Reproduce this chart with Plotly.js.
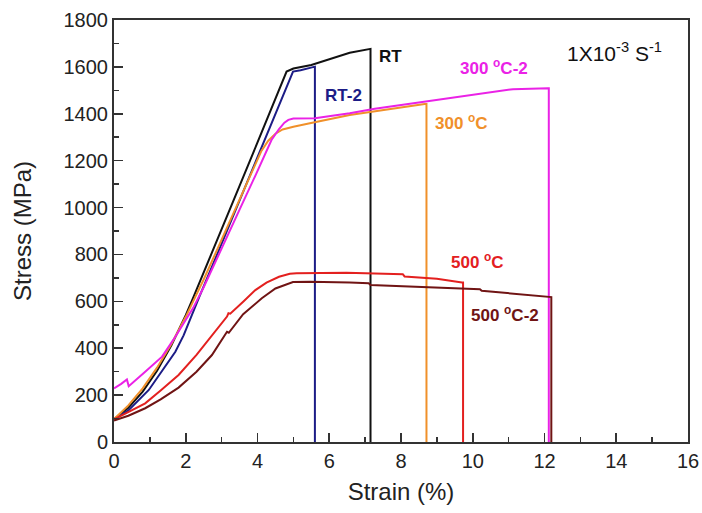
<!DOCTYPE html>
<html>
<head>
<meta charset="utf-8">
<script src="https://cdn.plot.ly/plotly-3.0.1.min.js"></script>
<style>html,body{margin:0;padding:0;background:#fff;}#chart{width:702px;height:513px;}</style>
</head>
<body>
<div id="chart"></div>
<script>
// ---- Data (strain %, stress MPa) ----
var rtX = [0,0.4,0.8,1.2,1.6,2.0,2.22,2.5,3.0,3.5,4.0,4.5,4.7,4.81,5.0,5.5,6.57,7.1,7.15,7.15];
var rtY = [97,146,215,304,413,541,620,722,905,1092,1278,1465,1540,1580,1593,1608,1660,1677,1677,0];

var rt2X = [0,0.4,0.97,1.4,1.71,1.94,2.2,2.38,3.0,3.5,4.0,4.5,4.9,4.99,5.2,5.55,5.6,5.6];
var rt2Y = [97,135,222,320,385,455,555,620,846,1029,1211,1394,1540,1580,1586,1601,1601,0];

var c300X = [0,0.4,0.8,1.2,1.6,2.0,2.27,2.5,3.0,3.5,4.1,4.3,4.5,4.7,5.0,5.46,6.57,8.66,8.71,8.71];
var c300Y = [97,156,229,317,418,534,620,693,863,1034,1239,1285,1315,1333,1345,1360,1395,1442,1442,0];

var c300bX = [0,0.2,0.36,0.41,0.87,1.34,1.71,2.2,2.5,3.0,3.5,3.97,4.39,4.6,4.75,4.86,5.0,5.6,6.57,7.27,8.66,10.0,11.12,12.1,12.12,12.12];
var c300bY = [229,248,267,238,300,364,449,570,660,822,991,1146,1288,1335,1362,1374,1380,1381,1402,1421,1452,1482,1505,1509,1509,0];

var c500X = [0,0.4,0.87,1.3,1.8,2.3,2.73,3.15,3.19,3.24,3.6,3.94,4.25,4.6,4.9,5.09,6.48,7.0,8.05,8.1,9.0,9.7,9.73,9.73];
var c500Y = [97,128,165,220,286,372,455,535,549,547,598,648,680,705,718,720,722,719,716,706,696,680,680,0];

var c500bX = [0,0.4,0.87,1.3,1.8,2.3,2.73,3.1,3.15,3.2,3.6,4.12,4.5,4.99,5.46,6.57,7.1,7.15,10.2,10.25,12.15,12.19,12.19];
var c500bY = [92,112,144,182,232,300,371,455,470,466,545,613,655,682,684,680,677,670,652,645,620,618,0];

var seriesNames = ['RT','RT-2','300 °C','300 °C-2','500 °C','500 °C-2'];
var seriesColors = ['#111111','#1c1c86','#f0902a','#ea22e6','#e3201f','#701414'];
var xs = [rtX,rt2X,c300X,c300bX,c500X,c500bX];
var ys = [rtY,rt2Y,c300Y,c300bY,c500Y,c500bY];

var traces = xs.map(function(x,i){
  return {x:x, y:ys[i], type:'scatter', mode:'lines', name:seriesNames[i],
          line:{color:seriesColors[i], width:2}, hoverinfo:'skip'};
});

var labelFont = 'Liberation Sans, Arial, sans-serif';
function lab(text, x, y, color, size, bold){
  return {text: bold ? '<b>'+text+'</b>' : text, x:x, y:y, xref:'x', yref:'y',
          showarrow:false, font:{family:labelFont, size:size, color:color}};
}

var layout = {
  width:702, height:513,
  margin:{l:114, r:14, t:20, b:71},
  paper_bgcolor:'#fff', plot_bgcolor:'#fff',
  showlegend:false,
  font:{family:labelFont, color:'#222'},
  xaxis:{
    range:[0,16], dtick:2, tick0:0,
    ticks:'inside', ticklen:9, tickwidth:1.6, tickcolor:'#333',
    minor:{dtick:1, ticks:'inside', ticklen:5, tickwidth:1.6, tickcolor:'#333'},
    showline:true, linecolor:'#333', linewidth:2, mirror:true,
    showgrid:false, zeroline:false,
    tickfont:{size:20, color:'#222'},
    title:{text:'Strain (%)', font:{size:24, color:'#222'}, standoff:12}
  },
  yaxis:{
    range:[0,1800], dtick:200, tick0:0,
    ticks:'inside', ticklen:9, tickwidth:1.6, tickcolor:'#333',
    minor:{dtick:100, ticks:'inside', ticklen:5, tickwidth:1.6, tickcolor:'#333'},
    showline:true, linecolor:'#333', linewidth:2, mirror:true,
    showgrid:false, zeroline:false,
    tickfont:{size:20, color:'#222'},
    title:{text:'Stress (MPa)', font:{size:24, color:'#222'}, standoff:25}
  },
  annotations:[
    lab('RT', 7.72, 1643, seriesColors[0], 17, true),
    lab('RT-2', 6.39, 1476, seriesColors[1], 17, true),
    lab('300 <sup>o</sup>C-2', 10.58, 1598, seriesColors[3], 17, true),
    lab('300 <sup>o</sup>C', 9.69, 1363, seriesColors[2], 17, true),
    lab('500 <sup>o</sup>C', 10.14, 771, seriesColors[4], 17, true),
    lab('500 <sup>o</sup>C-2', 10.89, 544, seriesColors[5], 17, true),
    lab('1X10<sup>-3</sup> S<sup>-1</sup>', 13.96, 1662, '#111', 21, false)
  ]
};

Plotly.newPlot('chart', traces, layout, {staticPlot:true, displayModeBar:false});
</script>
</body>
</html>
